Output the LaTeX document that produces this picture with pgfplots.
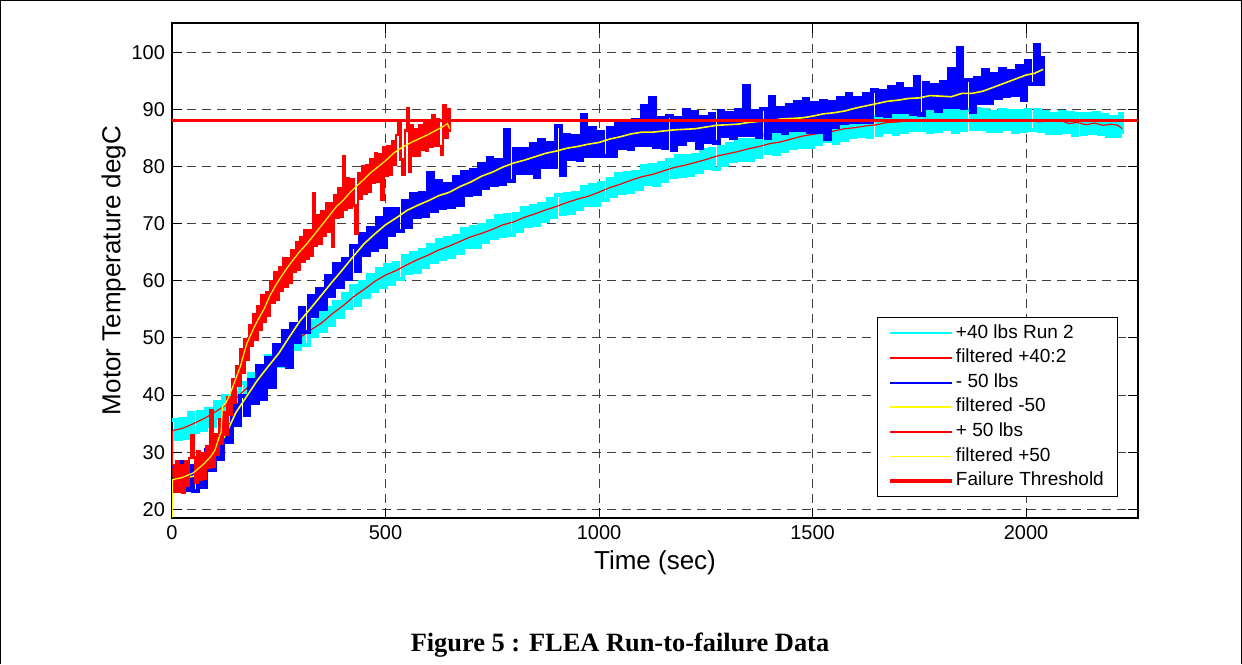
\documentclass[border=0pt]{standalone}
\usepackage{pgfplots}
\pgfplotsset{compat=1.18}
\usepackage{fontspec}
\setmainfont{Liberation Sans}
\newfontfamily\capfont{Liberation Serif}

\definecolor{mcyan}{RGB}{0,255,255}
\definecolor{mblue}{RGB}{0,0,255}
\definecolor{mred}{RGB}{255,0,0}
\definecolor{myellow}{RGB}{255,255,0}

% noisy raw signals: drawn as steps so each sample gives a vertical stroke
\pgfplotsset{noisy/.style={const plot, line width=2.1pt, legend image post style={line width=1pt}}}

\begin{document}
\begin{tikzpicture}
\path[use as bounding box] (0,0) rectangle (621pt,-332pt);
\draw[line width=0.6pt] (0.3pt,-332pt) -- (0.3pt,-0.3pt) -- (620.7pt,-0.3pt) -- (620.7pt,-332pt);

\begin{axis}[
    at={(86pt,-259pt)}, anchor=south west,
    scale only axis,
    width=483pt, height=247.5pt,
    xmin=0, xmax=2262,
    ymin=18.5, ymax=105.1,
    xtick={0,500,1000,1500,2000},
    ytick={20,30,40,50,60,70,80,90,100},
    tick align=inside,
    major tick length=5pt,
    axis line style={line width=0.6pt},
    every tick/.style={black, line width=0.5pt},
    grid=major,
    major grid style={black!75, line width=0.5pt, dash pattern=on 4.6pt off 2.9pt},
    /pgf/number format/assume math mode=true,
    /pgf/number format/1000 sep={},
    tick label style={font=\fontsize{10}{12}\selectfont},
    xlabel={Time (sec)},
    ylabel={Motor Temperature degC},
    label style={font=\fontsize{13}{15}\selectfont},
    xlabel style={yshift=1pt},
    ylabel style={yshift=-4pt},
    legend style={
        at={(0.979,0.042)}, anchor=south east,
        font=\fontsize{9.5}{11}\selectfont,
        draw=black, line width=0.5pt,
        inner xsep=5.5pt, inner ysep=2.3pt,
        row sep=1.1pt,
        nodes={inner sep=1.2pt, text height=6.8pt, text depth=2pt},
    },
    legend cell align=left,
    legend image code/.code={\draw[#1] (0pt,0pt) -- (31pt,0pt);},
]

% +40 lbs Run 2 (noisy)
\addplot[mcyan, noisy] coordinates {
(0,35.6)(10,32.4)(20,35.8)(30,32.6)(40,36.8)(50,33.6)(60,37.0)(70,34.0)(80,37.5)(90,34.6)
(100,38.7)(110,36.0)(120,39.9)(130,36.9)(140,40.4)(150,37.7)(160,42.1)(170,39.2)(180,43.7)(190,40.8)
(200,45.1)(210,42.5)(220,46.9)(230,44.2)(240,48.1)(250,45.1)(260,49.3)(270,46.8)(280,50.9)(290,48.0)
(300,51.4)(310,48.7)(320,53.0)(330,50.3)(340,54.4)(350,51.3)(360,55.2)(370,52.3)(380,56.3)(390,53.6)
(400,57.7)(410,55.2)(420,59.0)(430,55.7)(440,59.8)(450,57.1)(460,61.0)(470,58.2)(480,62.1)(490,59.0)
(500,62.7)(510,59.5)(520,63.1)(530,60.3)(540,64.3)(550,61.3)(560,64.8)(570,61.5)(580,65.4)(590,62.5)
(600,66.3)(610,63.3)(620,67.1)(630,63.9)(640,67.5)(650,64.2)(660,67.8)(670,64.9)(680,69.0)(690,65.9)
(700,69.4)(710,66.0)(720,69.8)(730,66.8)(740,70.5)(750,67.5)(760,71.3)(770,67.9)(780,71.5)(790,68.1)
(800,71.7)(810,68.8)(820,72.7)(830,69.6)(840,73.1)(850,69.7)(860,73.5)(870,70.5)(880,74.3)(890,71.2)
(900,75.0)(910,71.7)(920,75.2)(930,71.9)(940,75.4)(950,72.5)(960,76.4)(970,73.3)(980,76.7)(990,73.3)
(1000,77.1)(1010,74.1)(1020,77.8)(1030,74.8)(1040,78.6)(1050,75.3)(1060,78.8)(1070,75.5)(1080,79.1)(1090,76.1)
(1100,80.1)(1110,76.9)(1120,80.3)(1130,76.8)(1140,80.6)(1150,77.5)(1160,81.2)(1170,78.1)(1180,81.8)(1190,78.4)
(1200,81.9)(1210,78.5)(1220,82.0)(1230,79.0)(1240,82.9)(1250,79.7)(1260,83.1)(1270,79.6)(1280,83.4)(1290,80.3)
(1300,84.0)(1310,80.9)(1320,84.6)(1330,81.1)(1340,84.6)(1350,81.2)(1360,84.7)(1370,81.7)(1380,85.5)(1390,82.3)
(1400,85.7)(1410,82.2)(1420,85.9)(1430,82.8)(1440,86.4)(1450,83.3)(1460,87.0)(1470,83.5)(1480,87.0)(1490,83.5)
(1500,87.0)(1510,83.9)(1520,87.7)(1530,84.5)(1540,87.8)(1550,84.2)(1560,87.9)(1570,84.7)(1580,88.4)(1590,85.2)
(1600,88.8)(1610,85.3)(1620,88.7)(1630,85.2)(1640,88.6)(1650,85.5)(1660,89.3)(1670,86.0)(1680,89.3)(1690,85.7)
(1700,89.4)(1710,86.1)(1720,89.7)(1730,86.4)(1740,89.9)(1750,86.4)(1760,89.7)(1770,86.1)(1780,89.5)(1790,86.3)
(1800,90.0)(1810,86.6)(1820,89.8)(1830,86.1)(1840,89.7)(1850,86.4)(1860,89.9)(1870,86.6)(1880,90.1)(1890,86.5)
(1900,89.8)(1910,86.2)(1920,89.5)(1930,86.3)(1940,89.9)(1950,86.5)(1960,89.7)(1970,86.0)(1980,89.6)(1990,86.3)
(2000,89.8)(2010,86.4)(2020,89.9)(2030,86.2)(2040,89.5)(2050,85.9)(2060,89.1)(2070,85.9)(2080,89.5)(2090,86.1)
(2100,89.3)(2110,85.5)(2120,89.1)(2130,85.7)(2140,89.2)(2150,85.9)(2160,89.3)(2170,85.7)(2180,89.0)(2190,85.3)
(2200,88.6)(2210,85.4)(2220,89.1)(2225,85.7)
};
\addlegendentry{+40 lbs Run 2}

% filtered +40:2
\addplot[mred, line width=0.6pt] coordinates {
(0,25.7)(2,33.8)(25,34.2)(50,35.0)(75,35.9)(100,37.0)(125,38.2)(150,39.5)(175,41.2)(200,43.3)
(225,45.4)(250,47.3)(275,48.8)(300,50.1)(325,51.4)(350,52.6)(375,54.2)(400,55.6)(425,57.2)(450,58.5)
(475,59.9)(500,61.0)(525,61.8)(550,62.8)(575,63.7)(600,64.5)(625,65.4)(650,66.1)(675,66.9)(700,67.7)
(725,68.3)(750,69.0)(775,69.8)(800,70.3)(825,71.1)(850,71.7)(875,72.4)(900,73.0)(925,73.7)(950,74.3)
(975,74.8)(1000,75.5)(1025,76.3)(1050,76.9)(1075,77.6)(1100,78.2)(1125,78.6)(1150,79.2)(1175,79.8)(1200,80.2)
(1225,80.7)(1250,81.2)(1275,81.8)(1300,82.2)(1325,82.6)(1350,83.1)(1375,83.5)(1400,84.0)(1425,84.3)(1450,84.8)
(1475,85.3)(1500,85.6)(1525,85.9)(1550,86.2)(1575,86.6)(1600,86.8)(1625,87.1)(1650,87.3)(1675,87.7)(1700,87.8)
(1725,88.0)(1750,88.0)(1775,88.2)(1800,88.1)(1850,88.0)(1900,88.2)(1950,88.0)(2000,88.1)(2030,87.8)(2060,88.0)
(2080,88.1)(2100,87.5)(2120,87.7)(2140,87.3)(2160,87.6)(2180,87.2)(2200,87.4)(2215,87.2)(2225,86.6)
};
\addlegendentry{filtered +40:2}

% - 50 lbs (noisy)
\addplot[mblue, noisy] coordinates {
(0,27.6)(10,23.3)(20,28.2)(30,23.4)(40,27.5)(50,23.2)(60,28.6)(70,24.0)(80,30.3)(90,27.0)
(100,32.0)(110,28.8)(120,34.8)(130,31.8)(140,38.2)(150,34.8)(160,39.9)(170,36.6)(180,42.6)(190,38.6)
(200,45.1)(210,39.3)(220,46.5)(230,41.4)(240,48.8)(250,45.3)(260,51.2)(270,44.9)(280,52.5)(290,49.3)
(300,55.2)(310,51.0)(320,57.3)(330,53.8)(340,58.6)(350,55.1)(360,60.8)(370,57.3)(380,63.0)(390,58.9)
(400,63.8)(410,60.3)(420,66.0)(430,61.8)(440,68.1)(450,64.6)(460,69.2)(470,65.4)(480,70.9)(490,65.9)
(500,72.6)(510,68.1)(520,72.6)(530,68.7)(540,74.0)(550,69.4)(560,75.1)(570,71.1)(580,75.3)(590,71.3)
(600,78.8)(610,72.3)(620,77.4)(630,72.7)(640,77.0)(650,72.9)(660,78.1)(670,73.3)(680,79.1)(690,75.0)
(700,79.3)(710,75.2)(720,80.4)(730,76.3)(740,81.5)(750,76.8)(760,81.1)(770,77.0)(780,86.4)(790,77.4)
(800,83.1)(810,78.9)(820,83.0)(830,78.9)(840,83.9)(850,78.2)(860,84.7)(870,79.9)(880,84.1)(890,79.9)
(900,87.1)(910,78.5)(920,85.5)(930,81.3)(940,85.4)(950,81.1)(960,89.0)(970,81.8)(980,86.7)(990,81.9)
(1000,86.0)(1010,81.8)(1020,86.8)(1030,81.9)(1040,87.5)(1050,83.3)(1060,87.4)(1070,83.1)(1080,88.1)(1090,83.8)
(1100,90.6)(1110,83.8)(1120,92.0)(1130,83.5)(1140,88.4)(1150,83.3)(1160,88.8)(1170,82.9)(1180,88.4)(1190,84.0)
(1200,89.9)(1210,84.6)(1220,89.5)(1230,83.2)(1240,88.6)(1250,84.3)(1260,89.2)(1270,84.2)(1280,89.6)(1290,85.3)
(1300,89.3)(1310,85.0)(1320,89.9)(1330,85.5)(1340,94.1)(1350,85.5)(1360,89.6)(1370,85.2)(1380,90.1)(1390,85.0)
(1400,92.2)(1410,86.2)(1420,90.2)(1430,85.8)(1440,90.7)(1450,86.4)(1460,91.3)(1470,86.4)(1480,91.8)(1490,86.1)
(1500,91.0)(1510,86.0)(1520,91.5)(1530,84.9)(1540,91.3)(1550,87.0)(1560,92.0)(1570,87.7)(1580,92.7)(1590,87.8)
(1600,92.0)(1610,87.8)(1620,92.7)(1630,87.8)(1640,93.3)(1650,89.1)(1660,93.1)(1670,88.8)(1680,93.8)(1690,89.5)
(1700,94.4)(1710,89.5)(1720,93.6)(1730,89.2)(1740,95.7)(1750,89.1)(1760,94.6)(1770,90.2)(1780,94.2)(1790,89.8)
(1800,94.7)(1810,90.4)(1820,97.0)(1830,90.4)(1840,100.7)(1850,90.2)(1860,95.1)(1870,89.6)(1880,95.5)(1890,91.2)
(1900,96.9)(1910,91.1)(1920,96.2)(1930,92.0)(1940,97.1)(1950,92.4)(1960,96.7)(1970,92.6)(1980,97.6)(1990,91.6)
(2000,98.5)(2010,94.4)(2020,101.3)(2030,94.4)(2040,99.4)
};
\addlegendentry{- 50 lbs}

% filtered -50
\addplot[myellow, line width=0.8pt] coordinates {
(0,18.6)(1,25.2)(25,25.5)(50,25.8)(75,27.2)(100,30.0)(125,33.0)(150,37.0)(175,39.8)(200,42.6)
(225,45.0)(250,47.3)(275,50.2)(300,53.0)(325,55.2)(350,57.5)(375,59.8)(400,62.0)(425,64.3)(450,66.5)
(475,68.2)(500,69.8)(525,71.0)(550,72.3)(575,73.2)(600,74.0)(625,74.9)(650,75.5)(675,76.5)(700,77.3)
(725,78.3)(750,79.0)(775,79.9)(800,80.6)(825,81.1)(850,81.7)(875,82.3)(900,82.7)(925,83.2)(950,83.5)
(975,83.9)(1000,84.2)(1025,84.8)(1050,85.2)(1075,85.7)(1100,86.0)(1125,86.0)(1150,86.2)(1175,86.4)(1200,86.5)
(1225,86.6)(1250,86.9)(1275,87.2)(1300,87.3)(1325,87.4)(1350,87.7)(1375,87.9)(1400,88.0)(1425,88.3)(1450,88.4)
(1475,88.5)(1500,88.8)(1525,89.2)(1550,89.4)(1575,89.7)(1600,90.2)(1625,90.6)(1650,91.0)(1675,91.4)(1700,91.6)
(1725,91.9)(1750,92.0)(1775,92.4)(1800,92.3)(1825,92.2)(1850,92.8)(1875,92.8)(1900,93.2)(1925,93.9)(1950,94.6)
(1975,95.3)(2000,96.0)(2020,96.3)(2040,97.0)
};
\addlegendentry{filtered -50}

% + 50 lbs (noisy)
\addplot[mred, noisy, line width=1.2pt] coordinates {
(0,27.8)(5,23.1)(10,28.5)(15,23.1)(20,27.7)(25,22.9)(30,28.4)(35,24.1)(40,29.0)(45,32.9)
(50,29.1)(55,24.7)(60,30.2)(65,25.1)(70,29.9)(75,25.4)(80,31.1)(85,27.2)(90,37.4)(95,27.5)
(100,33.1)(105,29.5)(110,35.8)(115,31.4)(120,37.0)(125,33.1)(130,39.7)(135,36.6)(140,42.7)(145,38.6)
(150,45.1)(155,41.6)(160,48.1)(165,43.9)(170,49.7)(175,46.1)(180,52.2)(185,48.6)(190,54.2)(195,49.6)
(200,55.6)(205,51.5)(210,57.5)(215,52.8)(220,58.0)(225,53.9)(230,59.9)(235,56.1)(240,61.5)(245,56.7)
(250,62.4)(255,58.2)(260,64.0)(265,59.0)(270,64.0)(275,59.6)(280,65.4)(285,61.5)(290,66.8)(295,61.9)
(300,67.6)(305,63.3)(310,68.9)(315,63.9)(320,68.8)(325,64.4)(330,75.3)(335,66.2)(340,71.5)(345,66.5)
(350,72.2)(355,67.9)(360,73.6)(365,68.6)(370,73.6)(375,66.0)(380,74.9)(385,71.0)(390,76.2)(395,71.2)
(400,81.8)(405,72.4)(410,77.9)(415,72.8)(420,77.7)(425,73.2)(430,68.3)(435,78.8)(440,74.4)(445,80.1)
(450,75.2)(455,80.3)(460,75.5)(465,81.3)(470,77.1)(475,82.3)(480,77.3)(485,82.1)(490,74.1)(495,83.3)
(500,78.4)(505,83.5)(510,78.6)(515,84.5)(520,80.3)(525,85.5)(530,88.1)(535,81.2)(540,78.5)(545,86.3)
(550,90.2)(555,79.0)(560,87.2)(565,81.8)(570,86.5)(575,81.8)(580,87.2)(585,83.0)(590,88.0)(595,82.7)
(600,88.1)(605,83.5)(610,88.9)(615,83.6)(620,88.3)(625,83.6)(630,82.0)(635,90.8)(640,85.1)(645,90.1)
(650,86.0)
};
\addlegendentry{+ 50 lbs}

% filtered +50
\addplot[myellow, line width=0.6pt] coordinates {
(0,18.6)(1,25.2)(25,25.6)(50,26.4)(75,28.0)(90,29.2)(100,30.3)(112,33.0)(115,33.5)(118,38.0)
(125,38.5)(135,40.0)(150,43.0)(160,45.0)(175,49.0)(190,51.5)(200,53.0)(215,55.0)(230,57.5)(245,59.5)
(260,61.2)(270,62.3)(285,63.8)(300,65.2)(315,66.4)(330,67.8)(345,69.2)(360,70.6)(385,73.0)(400,74.0)
(415,75.3)(430,76.4)(450,77.8)(465,78.9)(480,79.8)(500,81.0)(520,82.4)(540,83.4)(560,84.2)(580,84.9)
(600,85.6)(620,86.4)(635,87.0)(645,87.5)(650,86.6)
};
\addlegendentry{filtered +50}

% failure threshold
\addplot[mred, line width=1.6pt] coordinates {(0,88)(2262,88)};
\addlegendentry{Failure Threshold}
\end{axis}

\node[font=\capfont\bfseries\fontsize{13.2}{15}\selectfont] at (310pt,-322.5pt) {Figure 5 : FLEA Run-to-failure Data};
\end{tikzpicture}
\end{document}
